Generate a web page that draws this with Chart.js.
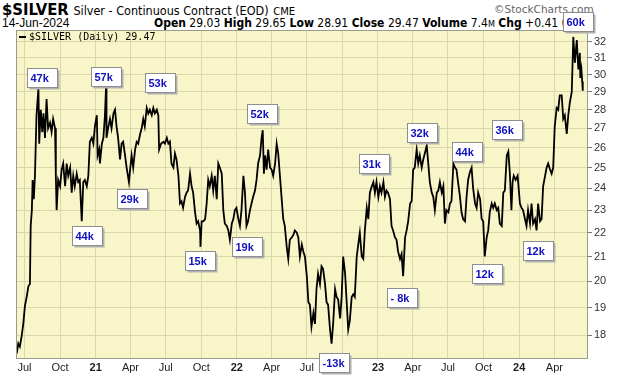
<!DOCTYPE html>
<html>
<head>
<meta charset="utf-8">
<script src="https://cdn.jsdelivr.net/npm/chart.js@4.4.1/dist/chart.umd.min.js"></script>
<style>
  html, body { margin: 0; padding: 0; background: #fff; }
  #wrap { position: relative; width: 620px; height: 376px; overflow: hidden; }
  #c { position: absolute; left: 0; top: 0; }
  .hdr { position: absolute; white-space: nowrap; color: #000; }
  #t1 { left: 2px; top: 1px; line-height: 18px; font-family: 'Liberation Sans Narrow', 'Arial Narrow', 'DejaVu Sans Condensed', sans-serif; }
  #t1 .sym { font-weight: bold; font-size: 16.5px; }
  #t1 .nm { font-size: 12.5px; }
  #t1 .ex { font-family: 'DejaVu Sans', sans-serif; font-size: 10px; }
  #wm { left: 494px; top: 4px; font-family: 'DejaVu Sans', sans-serif; font-size: 10.5px; line-height: 11px; color: #666; }
  #dt { left: 2px; top: 17px; font-family: 'Liberation Sans', Arial, sans-serif; font-size: 12px; line-height: 12px; }
  #ohlc { left: 154px; top: 17px; width: 436px; overflow: hidden; line-height: 13px;
          font-family: 'Liberation Sans Narrow', 'Arial Narrow', 'DejaVu Sans Condensed', sans-serif; font-size: 12px; }
  #ohlc small { font-size: 9px; }
</style>
</head>
<body>
<div id="wrap">
  <div class="hdr" id="t1"><span class="sym">$SILVER</span> <span class="nm">Silver - Continuous Contract (EOD)</span> <span class="ex">CME</span></div>
  <div class="hdr" id="wm">©StockCharts.com</div>
  <div class="hdr" id="dt">14-Jun-2024</div>
  <div class="hdr" id="ohlc"><b>Open</b> 29.03 <b>High</b> 29.65 <b>Low</b> 28.91 <b>Close</b> 29.47 <b>Volume</b> 7.4<small>M</small> <b>Chg</b> +0.41 (+1.40%)</div>
  <canvas id="c" width="620" height="376"></canvas>
</div>
<script>
const dates = [
  '2020-06-11','2020-06-15','2020-06-19','2020-06-24','2020-06-28','2020-07-02','2020-07-07','2020-07-11','2020-07-15','2020-07-17',
  '2020-07-20','2020-07-22','2020-07-25','2020-07-28','2020-08-01','2020-08-06','2020-08-08','2020-08-12','2020-08-16','2020-08-19',
  '2020-08-23','2020-08-27','2020-08-31','2020-09-05','2020-09-09','2020-09-13','2020-09-18','2020-09-20','2020-09-22','2020-09-26',
  '2020-10-01','2020-10-05','2020-10-09','2020-10-14','2020-10-18','2020-10-22','2020-10-27','2020-10-31','2020-11-04','2020-11-08',
  '2020-11-13','2020-11-17','2020-11-21','2020-11-26','2020-11-30','2020-12-04','2020-12-09','2020-12-13','2020-12-17','2020-12-22',
  '2020-12-26','2020-12-30','2021-01-04','2021-01-06','2021-01-10','2021-01-12','2021-01-17','2021-01-21','2021-01-25','2021-01-28',
  '2021-01-29','2021-02-03','2021-02-07','2021-02-11','2021-02-16','2021-02-20','2021-02-24','2021-02-28','2021-03-05','2021-03-09',
  '2021-03-13','2021-03-18','2021-03-22','2021-03-28','2021-03-31','2021-04-04','2021-04-08','2021-04-13','2021-04-17','2021-04-21',
  '2021-04-26','2021-04-30','2021-05-04','2021-05-08','2021-05-13','2021-05-17','2021-05-21','2021-05-26','2021-05-30','2021-06-03',
  '2021-06-08','2021-06-12','2021-06-14','2021-06-19','2021-06-25','2021-06-29','2021-07-04','2021-07-08','2021-07-12','2021-07-16',
  '2021-07-21','2021-07-25','2021-07-29','2021-08-03','2021-08-07','2021-08-11','2021-08-15','2021-08-20','2021-08-24','2021-08-28',
  '2021-09-02','2021-09-06','2021-09-10','2021-09-15','2021-09-19','2021-09-23','2021-09-28','2021-09-29','2021-10-02','2021-10-06',
  '2021-10-11','2021-10-15','2021-10-19','2021-10-23','2021-10-28','2021-11-01','2021-11-05','2021-11-10','2021-11-14','2021-11-18',
  '2021-11-23','2021-11-27','2021-12-01','2021-12-06','2021-12-10','2021-12-14','2021-12-19','2021-12-23','2021-12-27','2021-12-31',
  '2022-01-05','2022-01-09','2022-01-13','2022-01-18','2022-01-22','2022-01-26','2022-01-30','2022-02-04','2022-02-08','2022-02-12',
  '2022-02-17','2022-02-21','2022-02-25','2022-03-02','2022-03-06','2022-03-09','2022-03-12','2022-03-15','2022-03-19','2022-03-23',
  '2022-03-28','2022-04-01','2022-04-05','2022-04-10','2022-04-14','2022-04-18','2022-04-22','2022-04-27','2022-05-01','2022-05-05',
  '2022-05-10','2022-05-14','2022-05-18','2022-05-23','2022-05-27','2022-05-31','2022-06-05','2022-06-09','2022-06-13','2022-06-18',
  '2022-06-22','2022-06-26','2022-07-01','2022-07-05','2022-07-09','2022-07-13','2022-07-18','2022-07-22','2022-07-26','2022-07-30',
  '2022-08-04','2022-08-08','2022-08-12','2022-08-17','2022-08-21','2022-08-25','2022-08-30','2022-09-03','2022-09-07','2022-09-12',
  '2022-09-16','2022-09-20','2022-09-25','2022-09-29','2022-10-03','2022-10-08','2022-10-12','2022-10-16','2022-10-20','2022-10-25',
  '2022-10-29','2022-11-02','2022-11-07','2022-11-11','2022-11-15','2022-11-20','2022-11-24','2022-11-28','2022-12-03','2022-12-07',
  '2022-12-11','2022-12-16','2022-12-20','2022-12-24','2022-12-28','2023-01-02','2023-01-06','2023-01-10','2023-01-15','2023-01-19',
  '2023-01-23','2023-01-27','2023-02-01','2023-02-05','2023-02-09','2023-02-14','2023-02-18','2023-02-22','2023-02-27','2023-03-03',
  '2023-03-07','2023-03-12','2023-03-16','2023-03-20','2023-03-25','2023-03-29','2023-04-02','2023-04-06','2023-04-11','2023-04-15',
  '2023-04-19','2023-04-24','2023-04-28','2023-05-02','2023-05-07','2023-05-11','2023-05-15','2023-05-20','2023-05-24','2023-05-28',
  '2023-06-02','2023-06-06','2023-06-10','2023-06-15','2023-06-19','2023-06-23','2023-06-27','2023-07-02','2023-07-06','2023-07-10',
  '2023-07-15','2023-07-19','2023-07-23','2023-07-27','2023-08-01','2023-08-05','2023-08-09','2023-08-14','2023-08-18','2023-08-22',
  '2023-08-27','2023-08-31','2023-09-04','2023-09-09','2023-09-13','2023-09-17','2023-09-22','2023-09-26','2023-09-30','2023-10-04',
  '2023-10-09','2023-10-13','2023-10-17','2023-10-22','2023-10-26','2023-10-30','2023-11-04','2023-11-08','2023-11-12','2023-11-17',
  '2023-11-21','2023-11-25','2023-11-30','2023-12-04','2023-12-08','2023-12-12','2023-12-15','2023-12-18','2023-12-23','2023-12-28',
  '2024-01-03','2024-01-07','2024-01-11','2024-01-16','2024-01-20','2024-01-24','2024-01-29','2024-02-02','2024-02-06','2024-02-11',
  '2024-02-15','2024-02-19','2024-02-24','2024-02-28','2024-03-03','2024-03-08','2024-03-12','2024-03-16','2024-03-21','2024-03-25',
  '2024-03-29','2024-04-02','2024-04-07','2024-04-11','2024-04-15','2024-04-20','2024-04-24','2024-04-28','2024-05-03','2024-05-07',
  '2024-05-11','2024-05-16','2024-05-20','2024-05-24','2024-05-29','2024-06-02','2024-06-06','2024-06-07','2024-06-10','2024-06-12',
  '2024-06-13','2024-06-14'
];
const prices = [
  17.37,17.71,17.60,18.00,18.42,19.05,19.43,19.81,19.90,22.30,
  23.00,24.40,23.50,24.60,27.70,29.20,26.20,28.00,26.80,27.80,
  26.50,28.60,27.00,27.30,26.80,27.50,27.00,24.60,23.00,24.40,
  24.10,24.90,25.20,24.10,25.20,24.60,25.00,23.80,24.60,24.10,
  24.70,24.30,24.40,22.50,24.30,24.40,24.10,24.60,26.30,26.50,
  26.20,27.10,27.70,25.60,25.90,25.20,26.20,26.50,27.70,29.40,
  26.50,27.10,27.50,27.00,27.80,28.00,27.10,26.50,25.40,26.20,
  26.30,25.60,25.00,24.30,24.90,25.60,25.00,25.90,26.30,26.20,
  26.70,27.00,27.50,27.10,28.10,27.80,28.00,27.70,28.10,27.80,
  28.00,27.70,25.90,26.20,26.30,26.20,26.50,26.20,26.30,25.20,
  25.00,25.70,25.40,24.60,23.30,23.40,23.10,23.60,23.80,23.90,
  24.70,24.10,23.80,22.90,22.40,22.50,22.10,21.40,22.50,22.50,
  22.60,23.30,24.40,24.10,24.60,23.90,24.60,23.50,25.20,25.00,
  24.70,23.00,22.40,22.30,22.10,21.70,22.40,22.60,23.00,23.10,
  22.60,22.30,23.00,24.60,23.80,22.30,22.50,23.00,23.30,23.60,
  23.90,24.40,25.20,25.60,26.50,26.90,24.70,25.60,24.90,25.90,
  25.00,24.90,24.60,25.20,26.20,25.70,24.70,23.50,22.60,22.30,
  21.40,20.90,21.70,21.80,21.90,22.10,22.00,21.80,21.00,21.50,
  21.20,21.00,20.20,19.20,19.10,18.30,18.80,18.40,19.70,20.30,
  19.90,20.60,20.50,19.90,19.20,19.10,18.20,17.70,18.40,19.70,
  19.40,19.30,18.60,19.40,21.00,20.30,19.20,18.20,18.50,19.40,
  19.50,19.40,21.00,21.50,22.00,21.00,20.90,22.10,23.10,22.60,
  23.80,24.10,24.30,23.80,24.30,23.60,24.10,23.80,24.30,23.60,
  23.90,23.80,23.50,22.30,22.10,21.80,21.70,21.20,20.90,21.10,
  20.20,21.80,22.10,22.50,23.30,23.40,24.90,25.00,25.90,25.20,
  25.60,25.00,25.40,25.70,26.10,25.20,24.30,23.80,23.60,23.00,
  23.80,23.90,24.30,23.80,24.10,22.40,23.00,22.90,23.30,23.40,
  25.20,25.00,24.90,24.30,23.60,22.90,22.60,22.50,23.60,24.40,
  24.80,25.00,24.00,23.30,23.10,23.80,23.50,22.60,22.50,21.00,
  21.80,22.10,22.90,23.30,23.10,23.30,23.00,23.10,22.40,22.30,
  23.80,23.90,25.60,25.80,24.70,23.00,24.30,24.60,24.40,24.60,
  23.30,23.10,23.00,22.60,22.30,23.00,22.40,23.30,22.40,22.60,
  22.10,23.30,22.50,22.60,24.10,24.60,25.00,25.20,24.90,24.70,
  25.00,27.10,28.10,28.00,28.80,28.80,27.50,27.70,26.70,27.70,
  28.40,29.00,32.30,30.70,32.10,30.30,31.30,29.80,30.30,29.60,
  29.06,29.47
];
const yTicks = [18, 19, 20, 21, 22, 23, 24, 25, 26, 27, 28, 29, 30, 31, 32];
const tickDates = ['2020-07-01','2020-10-01','2021-01-01','2021-04-01','2021-07-01','2021-10-01','2022-01-01','2022-04-01',
                   '2022-07-01','2022-10-01','2023-01-01','2023-04-01','2023-07-01','2023-10-01','2024-01-01','2024-04-01'];
const tickLabels = ['Jul','Oct','21','Apr','Jul','Oct','22','Apr','Jul','Oct','23','Apr','Jul','Oct','24','Apr'];

// volume callouts (box centre in date/price)
const annoTexts = ['47k','44k','57k','29k','53k','15k','19k','52k','-13k','31k','- 8k','32k','44k','12k','36k','12k','60k'];
const annoDates = ['2020-08-16','2020-12-09','2021-01-29','2021-04-06','2021-06-16','2021-09-28','2022-01-28','2022-03-08',
                   '2022-09-08','2022-12-21','2023-03-03','2023-04-25','2023-08-19','2023-10-09','2023-11-30','2024-02-19','2024-06-01'];
const annoPrices = [29.83,21.90,29.88,23.51,29.56,20.85,21.42,27.81,17.07,25.22,19.39,26.79,25.80,20.33,26.92,21.25,33.26];

function dayNum(s) {
  const p = s.split('-').map(Number);
  return Date.UTC(p[0], p[1] - 1, p[2]) / 864e5;
}

const gridColor = '#dad7aa';

const plotBg = {
  id: 'plotBg',
  beforeDraw(chart) {
    const { ctx, chartArea: a } = chart;
    ctx.save();
    ctx.fillStyle = '#f8f6c9';
    ctx.fillRect(a.left, a.top, a.right - a.left, a.bottom - a.top);
    ctx.restore();
  }
};

const extras = {
  id: 'extras',
  afterDraw(chart) {
    const { ctx, chartArea: a, scales: { x, y } } = chart;
    ctx.save();
    // frame
    ctx.strokeStyle = '#9a9a90';
    ctx.lineWidth = 1;
    ctx.strokeRect(a.left + 0.5, a.top + 0.5, a.right - a.left - 1, a.bottom - a.top);
    // legend
    ctx.fillStyle = '#000';
    ctx.fillRect(a.left + 3, a.top + 6, 7, 2);
    ctx.font = '10px "DejaVu Sans Mono", monospace';
    ctx.textBaseline = 'middle';
    ctx.fillText('$SILVER (Daily) ' + prices[prices.length - 1].toFixed(2), a.left + 13, a.top + 7);
    // callouts
    ctx.font = 'bold 11px "Liberation Sans", Arial, sans-serif';
    annoTexts.forEach((t, i) => {
      const cx = x.getPixelForValue(dayNum(annoDates[i]));
      const cy = y.getPixelForValue(annoPrices[i]);
      const w = 30, h = 19;
      const l = Math.round(cx - w / 2) + 0.5, tp = Math.round(cy - h / 2) + 0.5;
      ctx.fillStyle = '#b0b0b0';
      ctx.fillRect(l + 2, tp + 2, w, h);
      ctx.fillStyle = '#fff';
      ctx.fillRect(l, tp, w, h);
      ctx.strokeStyle = '#8e8e8e';
      ctx.strokeRect(l, tp, w, h);
      ctx.fillStyle = '#1010bc';
      ctx.fillText(t, l + 3, tp + h / 2 + 0.5);
    });
    ctx.restore();
  }
};

const ctx = document.getElementById('c').getContext('2d');

const silverChart = new Chart(ctx, {
  type: 'line',
  data: {
    datasets: [{
      data: dates.map((d, i) => ({ x: dayNum(d), y: prices[i] })),
      borderColor: '#000',
      borderWidth: 1.8,
      pointRadius: 0,
      tension: 0
    }]
  },
  options: {
    responsive: false,
    animation: false,
    layout: { padding: { top: 30, left: 16, right: 0, bottom: 0 } },
    plugins: { legend: { display: false }, tooltip: { enabled: false } },
    scales: {
      x: {
        type: 'linear',
        min: dayNum('2020-06-09'),
        max: dayNum('2024-06-27'),
        afterBuildTicks: s => { s.ticks = tickDates.map(d => ({ value: dayNum(d) })); },
        afterFit: s => { s.height = 18; s.paddingLeft = 0; s.paddingRight = 0; },
        grid: { color: gridColor, drawTicks: false },
        border: { display: false },
        ticks: {
          autoSkip: false,
          maxRotation: 0,
          padding: 3,
          color: '#222',
          callback: (v, i) => tickLabels[i],
          font: c => ({
            family: '"Liberation Sans", Arial, sans-serif',
            size: 11,
            weight: /^\d+$/.test(tickLabels[c.index] || '') ? 'bold' : 'normal'
          })
        }
      },
      y: {
        type: 'logarithmic',
        position: 'right',
        min: 17.21,
        max: 32.74,
        afterBuildTicks: s => { s.ticks = yTicks.map(v => ({ value: v })); },
        afterFit: s => { s.width = 32; s.paddingTop = 0; s.paddingBottom = 0; },
        grid: { color: gridColor, tickLength: 4, tickColor: '#777' },
        border: { display: false },
        ticks: {
          padding: 2,
          color: '#333',
          callback: v => String(v),
          font: { family: '"Liberation Sans", Arial, sans-serif', size: 11 }
        }
      }
    }
  },
  plugins: [plotBg, extras]
});
</script>
</body>
</html>
